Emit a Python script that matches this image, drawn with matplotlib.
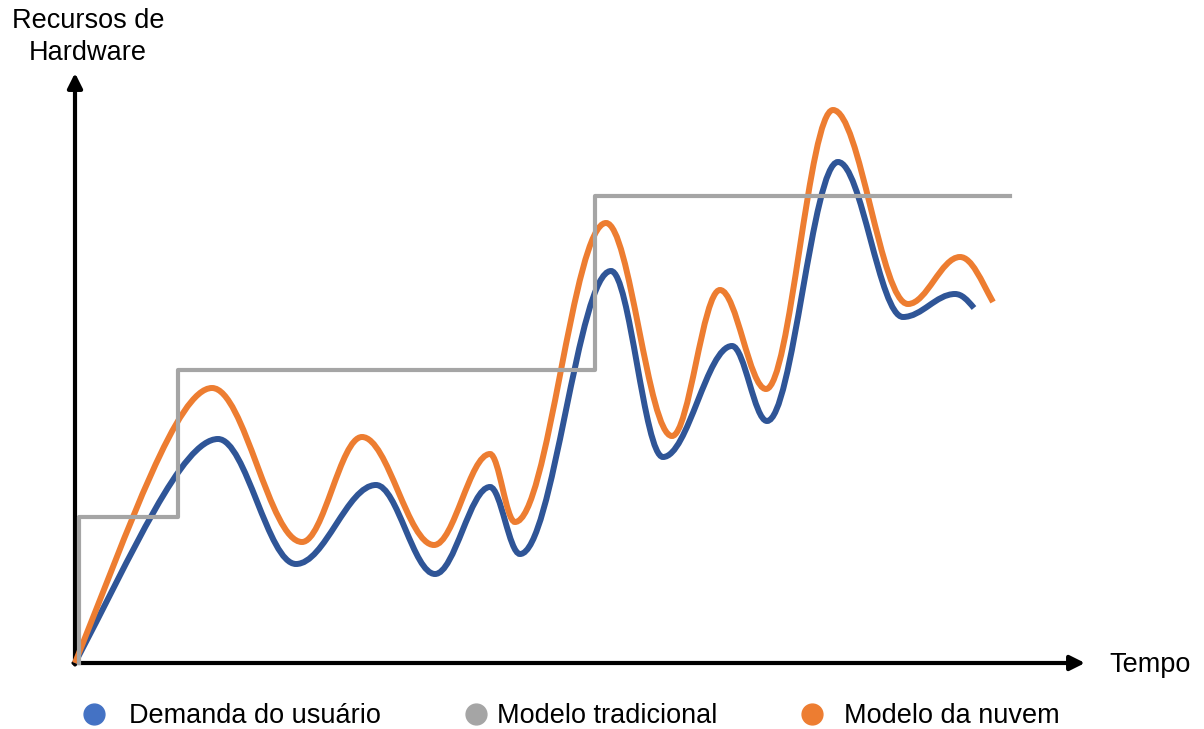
import numpy as np
import matplotlib.pyplot as plt
from matplotlib.path import Path
from matplotlib.patches import PathPatch
from matplotlib.lines import Line2D

plt.rcParams['font.family'] = ['Liberation Sans', 'DejaVu Sans']

# user demand: turning points of the curve (time, resources)
demand_t = [0, 143, 221, 301, 360, 415, 445, 536, 588, 657, 692, 763, 828, 880, 899]
demand_r = [0, 224, 99, 178, 89, 176, 109, 392, 206, 317, 242, 501, 346, 369, 355]

# cloud model follows demand with a margin
cloud_t = [0, 137, 227, 287, 359, 415, 440, 531, 597, 645, 691, 758, 833, 885, 918]
cloud_r = [0, 275, 121, 226, 118, 209, 141, 440, 227, 373, 274, 553, 359, 406, 361]

# traditional model: capacity bought in steps
trad_t = [4, 4, 103, 520, 935]
trad_r = [0, 146, 293, 467, 467]

legend_labels = ['Demanda do usuário', 'Modelo tradicional', 'Modelo da nuvem']

BLUE = '#2F5597'
ORANGE = '#ED7D31'
GRAY = '#A5A5A5'


def smooth_path(xs, ys, start_slope, end_slope, k=0.36, k_first=(0.4, 0.25)):
    # cubic bezier between turning points, flat tangent at each extreme
    slopes = [start_slope] + [0.0] * (len(xs) - 2) + [end_slope]
    verts = [(xs[0], ys[0])]
    codes = [Path.MOVETO]
    for i in range(len(xs) - 1):
        dx = xs[i + 1] - xs[i]
        ka, kb = k_first if i == 0 else (k, k)
        verts.append((xs[i] + ka * dx, ys[i] + ka * dx * slopes[i]))
        verts.append((xs[i + 1] - kb * dx, ys[i + 1] - kb * dx * slopes[i + 1]))
        verts.append((xs[i + 1], ys[i + 1]))
        codes += [Path.CURVE4] * 3
    return Path(verts, codes)


fig = plt.figure(figsize=(12.04, 7.29), dpi=100)
ax = fig.add_axes([0, 0, 1, 1])
ax.set_xlim(-75, 1129)
ax.set_ylim(-66, 663)
ax.axis('off')

ax.add_patch(PathPatch(smooth_path(demand_t, demand_r, 1.9, -1.2),
                       fill=False, edgecolor=BLUE, lw=4.3, capstyle='butt', zorder=3))
ax.add_patch(PathPatch(smooth_path(cloud_t, cloud_r, 2.5, -1.8),
                       fill=False, edgecolor=ORANGE, lw=4.3, capstyle='butt', zorder=3))
ax.plot(trad_t, trad_r, drawstyle='steps-post', color=GRAY, lw=3, zorder=4)

# axes with arrow heads
arrow = dict(arrowstyle='-|>', lw=3, color='black', mutation_scale=22, shrinkA=0, shrinkB=0)
ax.annotate('', xy=(0, 590), xytext=(0, -1.5), arrowprops=arrow, zorder=2)
ax.annotate('', xy=(1010, 0), xytext=(-1.5, 0), arrowprops=arrow, zorder=2)

fig.text(88 / 1204, 1 - 37 / 729, 'Recursos de\nHardware', ha='center', va='center',
         fontsize=19.5, linespacing=1.32)
fig.text(1109 / 1204, 1 - 665 / 729, 'Tempo', ha='left', va='center', fontsize=19.5)

# legend row
dot_x = [94, 476, 812]
text_x = [129, 497, 844]
for dx, tx, c, lab in zip(dot_x, text_x, ['#4472C4', GRAY, ORANGE], legend_labels):
    fig.add_artist(Line2D([dx / 1204], [1 - 714 / 729], marker='o', markersize=15,
                          color=c, transform=fig.transFigure))
    fig.text(tx / 1204, 1 - 716 / 729, lab, ha='left', va='center', fontsize=19.5)

fig.savefig('out.png', dpi=100)
